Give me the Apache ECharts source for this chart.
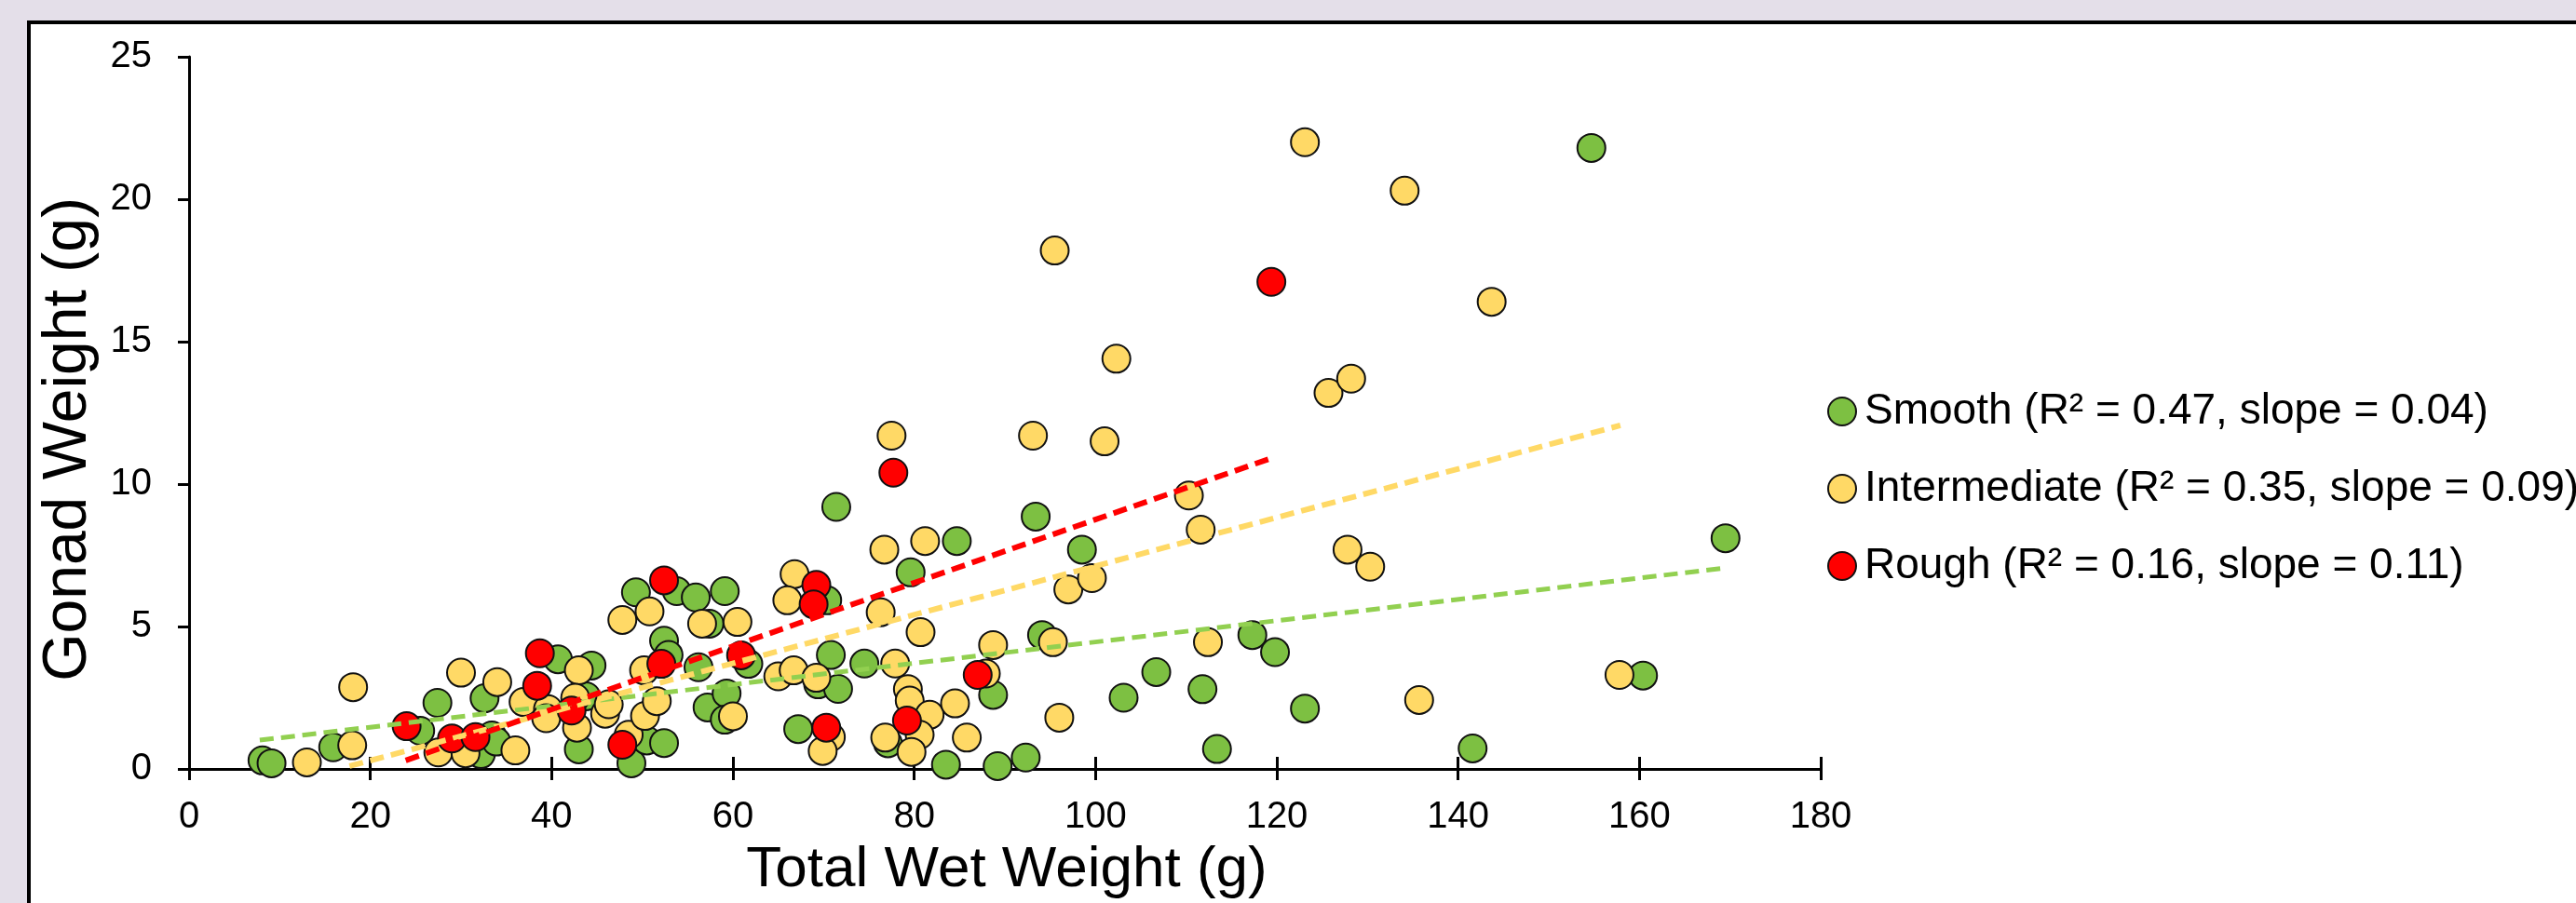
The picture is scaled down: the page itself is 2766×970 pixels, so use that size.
<!DOCTYPE html>
<html>
<head>
<meta charset="utf-8">
<script src="https://cdn.jsdelivr.net/npm/echarts@6/dist/echarts.min.js"></script>
<style>
html,body{margin:0;padding:0;background:#e4dfe9;}
#chart{width:2766px;height:970px;}
</style>
</head>
<body>
<div id="chart"></div>
<script>
// ---- data ----
const xTickValues = [0, 20, 40, 60, 80, 100, 120, 140, 160, 180];
const yTickValues = [0, 5, 10, 15, 20, 25];

const seriesNames = [
  'Smooth (R\u00b2 = 0.47, slope = 0.04)',
  'Intermediate (R\u00b2 = 0.35, slope = 0.09)',
  'Rough (R\u00b2 = 0.16, slope = 0.11)'
];

const smooth = [
  [8.1,0.3],[9.1,0.2],[15.9,0.76],[25.5,1.34],[27.4,2.32],[32.2,0.52],[32.6,2.48],[33.4,1.18],
  [33.9,0.96],[40.7,3.85],[43.0,0.69],[43.8,2.55],[44.4,3.63],[48.8,0.2],[49.3,6.2],[50.5,1.0],
  [52.4,0.91],[52.4,4.5],[52.9,4.0],[53.8,6.24],[55.9,6.02],[56.2,3.57],[57.2,2.16],[57.4,5.1],
  [59.1,6.24],[59.3,2.65],[59.1,1.73],[61.7,3.69],[67.2,1.4],[69.4,2.97],[70.4,5.92],[70.8,4.0],
  [71.6,2.81],[71.4,9.2],[74.5,3.7],[77.1,0.9],[79.6,6.9],[83.5,0.15],[84.7,8.0],[88.7,2.6],
  [89.2,0.1],[92.3,0.4],[93.4,8.86],[94.1,4.7],[98.5,7.7],[103.1,2.5],[106.7,3.4],[111.8,2.8],
  [113.4,0.7],[117.3,4.7],[119.8,4.1],[123.1,2.12],[141.6,0.72],[160.4,3.28],[169.5,8.1],[154.7,21.8]
];

const intermediate = [
  [13.0,0.23],[18.0,0.83],[18.1,2.87],[27.5,0.58],[30.0,3.38],[30.5,0.55],[34.0,3.05],[36.0,0.65],
  [36.9,2.35],[39.6,2.1],[39.4,1.78],[43.0,3.46],[42.8,1.45],[42.6,2.5],[45.9,1.94],[46.3,2.27],
  [48.5,1.2],[47.8,5.23],[50.8,5.53],[50.2,3.46],[50.3,1.86],[51.6,2.38],[56.6,5.1],[60.5,5.16],
  [60.0,1.85],[65.0,3.25],[66.7,3.46],[69.2,3.2],[66.8,6.84],[66.0,5.92],[70.8,1.12],[69.9,0.63],
  [76.7,7.7],[81.2,8.0],[76.3,5.5],[80.7,4.8],[77.9,3.7],[79.3,2.8],[79.5,2.4],[81.7,1.9],
  [84.5,2.3],[85.8,1.1],[80.6,1.2],[76.8,1.1],[79.7,0.6],[87.9,3.35],[88.7,4.35],[95.3,4.45],
  [96.0,1.8],[97.0,6.3],[99.6,6.7],[110.3,9.6],[111.6,8.4],[112.4,4.45],[77.5,11.7],[93.1,11.7],
  [101.0,11.5],[102.3,14.4],[95.5,18.2],[123.1,22.0],[134.1,20.3],[143.7,16.4],[125.7,13.2],[128.2,13.7],
  [127.8,7.7],[130.3,7.1],[135.7,2.42],[157.8,3.3]
];

const rough = [
  [24.0,1.5],[29.0,1.07],[31.6,1.12],[38.7,4.06],[38.4,2.92],[42.2,2.05],[47.8,0.85],[52.4,6.62],
  [52.1,3.69],[60.9,3.99],[69.2,6.46],[68.9,5.78],[70.3,1.45],[77.7,10.4],[79.2,1.7],[87.0,3.3],
  [119.4,17.1]
];

// trend line end points
const smoothTrend = [[7.8,1.01],[169.6,7.06]];
const intermediateTrend = [[17.7,0.1],[157.9,12.06]];
const roughTrend = [[23.9,0.3],[119.3,10.9]];

// ---- styles ----
const FONT = '"Liberation Sans", Arial, sans-serif';
const GREEN = '#7dc042';
const YELLOW = '#ffd966';
const RED = '#ff0000';

const chart = echarts.init(document.getElementById('chart'), null, {renderer: 'canvas'});

function scatter(name, data, color) {
  return {
    name: name, type: 'scatter', data: data, symbol: 'circle', symbolSize: 30,
    itemStyle: {color: color, borderColor: '#111', borderWidth: 2, opacity: 1},
    emphasis: {disabled: true}, z: 3, clip: false
  };
}
function trend(data, color, width) {
  return {
    type: 'line', data: data, symbol: 'none', silent: true, z: 5,
    lineStyle: {color: color, width: width, type: [15, 8], cap: 'butt'},
    emphasis: {disabled: true}
  };
}

const axisCommon = {
  axisLine: {show: true, onZero: false, lineStyle: {color: '#000', width: 3}},
  splitLine: {show: false},
  axisLabel: {color: '#000', fontSize: 40, fontFamily: FONT},
};

chart.setOption({
  backgroundColor: '#e4dfe9',
  animation: false,
  graphic: [
    {type: 'rect', z: -10, shape: {x: 31, y: 24, width: 2800, height: 1000},
     style: {fill: '#ffffff', stroke: '#000', lineWidth: 4}},
    {type: 'text', z: 10, x: 74, y: 472, rotation: Math.PI / 2,
     style: {text: 'Gonad Weight (g)', fill: '#000', font: '66px ' + FONT, align: 'center', verticalAlign: 'middle'}},
    {type: 'text', z: 10, x: 1081, y: 935,
     style: {text: 'Total Wet Weight (g)', fill: '#000', font: '62px ' + FONT, align: 'center', verticalAlign: 'middle'}}
  ],
  grid: {left: 203, top: 61, right: 811, bottom: 144, containLabel: false},
  xAxis: [
    Object.assign({}, axisCommon, {
      type: 'value', min: xTickValues[0], max: xTickValues[xTickValues.length - 1], interval: 20,
      axisTick: {show: true, inside: false, length: 12, lineStyle: {color: '#000', width: 3}},
      axisLabel: Object.assign({}, axisCommon.axisLabel, {margin: 32})
    }),
    {
      type: 'value', min: xTickValues[0], max: xTickValues[xTickValues.length - 1], interval: 20,
      position: 'bottom', axisLine: {show: false},
      axisTick: {show: true, inside: true, length: 13, lineStyle: {color: '#000', width: 3}},
      axisLabel: {show: false}, splitLine: {show: false}
    }
  ],
  yAxis: Object.assign({}, axisCommon, {
    type: 'value', min: yTickValues[0], max: yTickValues[yTickValues.length - 1], interval: 5,
    axisTick: {show: true, inside: false, length: 12, lineStyle: {color: '#000', width: 3}},
    axisLabel: Object.assign({}, axisCommon.axisLabel, {margin: 40})
  }),
  legend: {
    data: seriesNames, orient: 'vertical', left: 1957, top: 412,
    itemWidth: 30, itemHeight: 30, itemGap: 33, icon: 'circle', selectedMode: false,
    textStyle: {color: '#000', fontSize: 46, fontFamily: FONT, lineHeight: 50, padding: [0, 0, 0, 4]}
  },
  series: [
    scatter(seriesNames[0], smooth, GREEN),
    scatter(seriesNames[1], intermediate, YELLOW),
    scatter(seriesNames[2], rough, RED),
    trend(smoothTrend, '#92d050', 5),
    trend(intermediateTrend, YELLOW, 6),
    trend(roughTrend, RED, 6)
  ]
});
</script>
</body>
</html>
